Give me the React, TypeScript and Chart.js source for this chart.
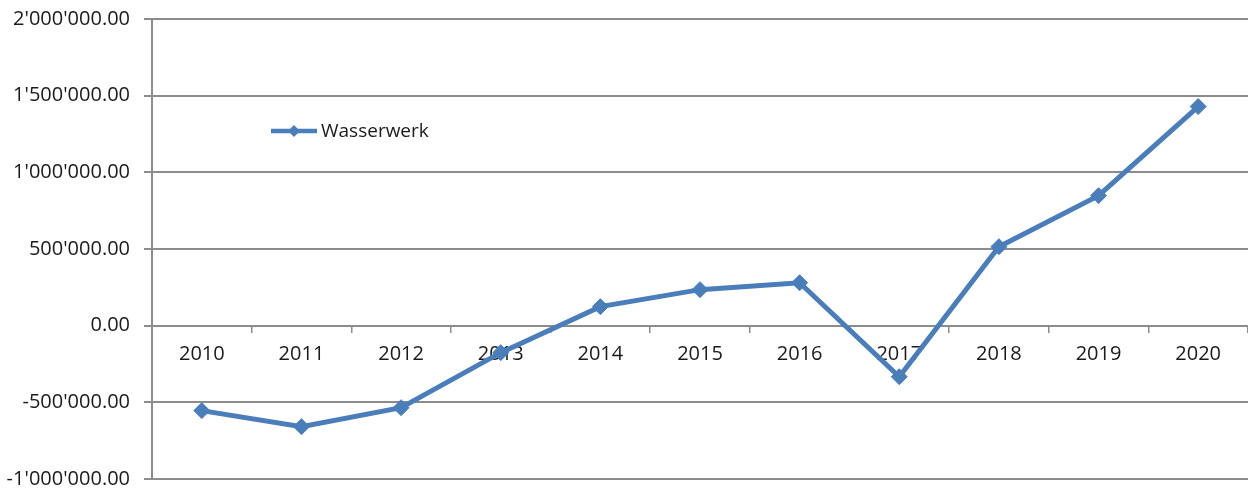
import React, { useEffect, useRef } from "react";
import { Chart, registerables } from "chart.js";

Chart.register(...registerables);

const categories = ["2010", "2011", "2012", "2013", "2014", "2015", "2016", "2017", "2018", "2019", "2020"];
const seriesName = "Wasserwerk";
const seriesValues = [-554000, -659000, -535000, -176000, 124000, 235000, 280000, -333000, 515000, 848000, 1429000];
const yMin = -1000000;
const yMax = 2000000;
const yStep = 500000;

const BLUE = "#4a7ebb";
const GRID = "#8c8c8c";
const FONT = "'Open Sans', 'Noto Sans', sans-serif";

function formatSwiss(v: number): string {
  const neg = v < 0;
  const abs = Math.abs(v);
  const intPart = Math.floor(abs).toString().replace(/\B(?=(\d{3})+(?!\d))/g, "'");
  return (neg ? "-" : "") + intPart + ".00";
}

const legendPlugin = {
  id: "customLegend",
  afterDraw(chart: any) {
    const ctx = chart.ctx;
    const x0 = 271;
    const y0 = 131;
    ctx.save();
    ctx.strokeStyle = BLUE;
    ctx.lineWidth = 4.5;
    ctx.beginPath();
    ctx.moveTo(x0, y0);
    ctx.lineTo(x0 + 46, y0);
    ctx.stroke();
    ctx.fillStyle = BLUE;
    const cx = x0 + 23;
    const r = 6;
    ctx.beginPath();
    ctx.moveTo(cx, y0 - r);
    ctx.lineTo(cx + r, y0);
    ctx.lineTo(cx, y0 + r);
    ctx.lineTo(cx - r, y0);
    ctx.closePath();
    ctx.fill();
    ctx.fillStyle = "#1a1a1a";
    ctx.font = `19px ${FONT}`;
    ctx.textBaseline = "middle";
    ctx.textAlign = "left";
    ctx.fillText(chart.data.datasets[0].label, x0 + 50, y0 + 1);
    ctx.restore();
  },
};

export default function App() {
  const ref = useRef<HTMLCanvasElement | null>(null);
  useEffect(() => {
    if (!ref.current) return;
    const chart = new Chart(ref.current, {
      type: "line",
      data: {
        labels: categories,
        datasets: [
          {
            label: seriesName,
            data: seriesValues,
            borderColor: BLUE,
            backgroundColor: BLUE,
            borderWidth: 5,
            pointStyle: "rectRot",
            pointRadius: 8,
            pointHoverRadius: 8,
            pointBackgroundColor: BLUE,
            pointBorderColor: BLUE,
            pointBorderWidth: 1,
            tension: 0,
          },
        ],
      },
      options: {
        responsive: false,
        animation: false,
        maintainAspectRatio: false,
        layout: { autoPadding: false, padding: { top: 19, bottom: 10, left: 0, right: 0 } },
        plugins: {
          legend: { display: false },
          tooltip: { enabled: false },
        },
        scales: {
          x: {
            type: "category",
            position: { y: 0 } as any,
            offset: true,
            afterFit(scale: any) {
              scale.paddingLeft = 0;
              scale.paddingRight = 0;
            },
            grid: {
              offset: true,
              drawOnChartArea: false,
              drawTicks: true,
              tickLength: 6,
              color: GRID,
              lineWidth: 1.5,
            },
            border: { display: true, color: GRID, width: 2 },
            ticks: {
              color: "#1a1a1a",
              font: { family: FONT, size: 20 },
              padding: 11,
              maxRotation: 0,
              autoSkip: false,
            },
          },
          y: {
            type: "linear",
            min: yMin,
            max: yMax,
            afterFit(scale: any) {
              scale.width = 152;
              scale.paddingTop = 0;
              scale.paddingBottom = 0;
            },
            grid: {
              color: GRID,
              lineWidth: 2,
              drawTicks: true,
              tickLength: 8,
            },
            border: { display: true, color: GRID, width: 2 },
            ticks: {
              stepSize: yStep,
              color: "#1a1a1a",
              font: { family: FONT, size: 20 },
              padding: 14,
              callback: (v: any) => formatSwiss(Number(v)),
            },
          },
        },
      },
      plugins: [legendPlugin],
    });
    return () => chart.destroy();
  }, []);
  return (
    <div style={{ position: "fixed", left: 0, top: 0, width: 1248, height: 489, background: "#fff" }}>
      <canvas ref={ref} width={1248} height={489} style={{ width: 1248, height: 489, display: "block" }} />
    </div>
  );
}
